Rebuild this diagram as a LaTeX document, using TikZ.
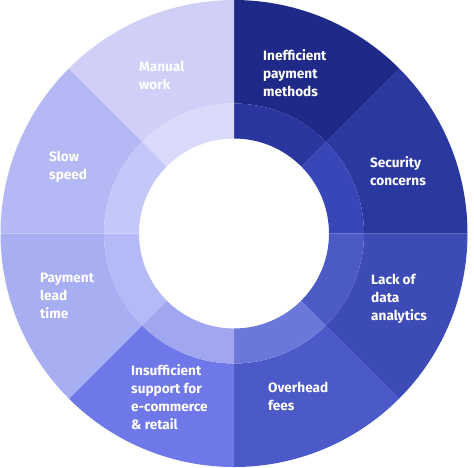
\documentclass[tikz,border=0pt]{standalone}
\usepackage{fontspec}
\setmainfont{Fira Sans}
\begin{document}
\begin{tikzpicture}[x=1pt,y=-1pt,
  lbl/.style={text=white,font=\bfseries\fontsize{13.6}{18}\selectfont,align=left,anchor=west,inner sep=0pt}]
\useasboundingbox (0,0) rectangle (474,467);
\def\R{233.5}\def\rb{130}\def\rh{95}
\begin{scope}[shift={(234,233.5)},y=1pt]
\foreach \a/\co/\ci in {45/1F2A88/2A359E, 0/2B389F/3946B8, -45/3C4BB6/4C5AC6, -90/4C59C9/6C77DA, -135/6E78E8/A0A6F0, 180/A8AEF2/B4BAF5, 135/B4B9F5/C4C8F8, 90/CFCFF8/DADAFB}{
  \definecolor{cout}{HTML}{\co}\definecolor{cin}{HTML}{\ci}
  \fill[cout] (\a:\R) arc[start angle=\a, end angle=\a+45, radius=\R] -- (\a+45:\rb) arc[start angle=\a+45, end angle=\a, radius=\rb] -- cycle;
  \fill[cin] (\a:\rb) arc[start angle=\a, end angle=\a+45, radius=\rb] -- (\a+45:\rh) arc[start angle=\a+45, end angle=\a, radius=\rh] -- cycle;
}
\end{scope}
\node[lbl] (ineff) at (263,73.5) {Inefficient\\payment\\methods};
\node[lbl] (sec) at (370,171) {Security\\concerns};
\node[lbl] (lack) at (371,299) {Lack of\\data\\analytics};
\node[lbl] (over) at (268,396) {Overhead\\fees};
\node[lbl] (insuf) at (131,397) {Insufficient\\support for\\e-commerce\\\& retail};
\node[lbl] (lead) at (40,296) {Payment\\lead\\time};
\node[lbl] (slow) at (49,167) {Slow\\speed};
\node[lbl] (manual) at (139,75) {Manual\\work};
\end{tikzpicture}
\end{document}
